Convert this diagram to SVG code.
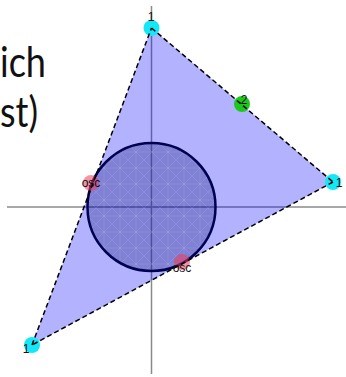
<svg xmlns="http://www.w3.org/2000/svg" width="346" height="377" viewBox="0 0 346 377">
<style>
.big{font-family:Lato,"Open Sans","Noto Sans",sans-serif;font-size:42px;fill:#111}
.lbl{font-family:"Liberation Sans",Arial,sans-serif;font-size:12px;fill:#111;text-anchor:middle}
.axis{stroke:#8a8a8a;stroke-width:1.5}
.edge{stroke:#000;stroke-width:1.5;stroke-dasharray:5 3;fill:none}
.vtx{fill:#14e8f6}
.mid{fill:#1cc81c}
.osc{fill:#eb3c5a;fill-opacity:0.55}
</style>
<defs>
<pattern id="hatch" width="16" height="16" patternUnits="userSpaceOnUse">
<path d="M0,0 L16,16 M16,0 L0,16 M8,0 V16 M0,8 H16" stroke="#ffffff" stroke-opacity="0.1" stroke-width="1" fill="none"/>
</pattern>
</defs>
<rect width="346" height="377" fill="#fff"/>
<text class="big" x="0" y="77" textLength="46" lengthAdjust="spacingAndGlyphs">ich</text>
<text class="big" x="0" y="127" textLength="38" lengthAdjust="spacingAndGlyphs">st)</text>
<g id="axes">
<line class="axis" x1="151.5" y1="6" x2="151.5" y2="374"/>
<line class="axis" x1="7" y1="207" x2="346" y2="207"/>
</g>
<g id="triangle">
<polygon points="151.5,28 333,182 32,345" fill="#0000ff" fill-opacity="0.3"/>
</g>
<g id="incircle">
<circle cx="151.5" cy="207" r="64" fill="#000066" fill-opacity="0.28"/>
<circle cx="151.5" cy="207" r="64" fill="url(#hatch)" stroke="#000050" stroke-width="2.5"/>
</g>
<g id="v-top"><circle class="vtx" cx="151.5" cy="28" r="8"/></g>
<g id="v-right"><circle class="vtx" cx="333" cy="182" r="8"/></g>
<g id="v-left"><circle class="vtx" cx="32" cy="345" r="8"/></g>
<g id="p-mid"><circle class="mid" cx="242" cy="104" r="8"/></g>
<g id="osc-1"><circle class="osc" cx="91" cy="183" r="8"/></g>
<g id="osc-2"><circle class="osc" cx="182" cy="262" r="8"/></g>
<g id="connectors">
<line class="edge" x1="151.5" y1="28" x2="333" y2="182"/>
<line class="edge" x1="333" y1="182" x2="32" y2="345"/>
<line class="edge" x1="32" y1="345" x2="151.5" y2="28"/>
</g>
<g id="labels">
<text class="lbl" x="151" y="21">1</text>
<text class="lbl" x="339" y="187">1</text>
<text class="lbl" x="26" y="353">1</text>
<text class="lbl" x="244" y="104">2</text>
<text class="lbl" x="91" y="187">osc</text>
<text class="lbl" x="182" y="272">osc</text>
</g>
</svg>
